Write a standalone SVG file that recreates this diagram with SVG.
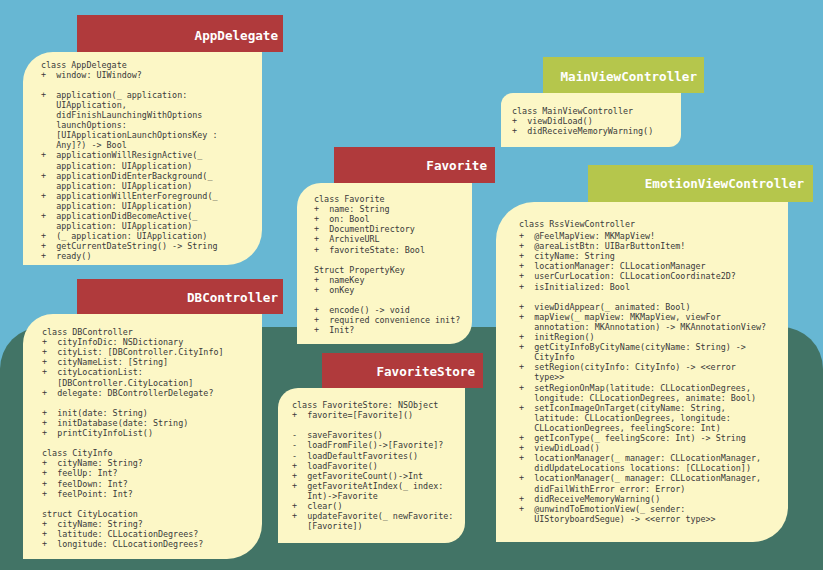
<svg xmlns="http://www.w3.org/2000/svg" width="823" height="570" viewBox="0 0 823 570" xml:space="preserve">
<style>
.body{font-family:"DejaVu Sans Mono","Liberation Mono",monospace;font-size:8.4px;fill:#3a3a3a;white-space:pre}
.hd{font-family:"DejaVu Sans Mono","Liberation Mono",monospace;font-size:12.6px;font-weight:bold;fill:#ffffff;text-anchor:end}
.card{fill:#fcf7c6}
.red{fill:#b03a3c}
.grn{fill:#b5c64c}
</style>
<rect x="0" y="0" width="823" height="570" fill="#67b7d3"/>
<rect x="0" y="327" width="823" height="300" rx="42" ry="42" fill="#427466"/>
<g id="connectors"></g>

<g id="AppDelegate">
<rect class="red" x="77" y="15" width="206" height="37"/>
<text class="hd" x="278" y="40">AppDelegate</text>
<path class="card" d="M23,82 A30,30 0 0 1 53,52 H262 V230 A35,35 0 0 1 227,265 H23 Z"/>
<text class="body" y="68"><tspan x="41">class AppDelegate</tspan><tspan x="41" dy="10.05">+  window: UIWindow?</tspan><tspan x="41" dy="20.1">+  application(_ application:</tspan><tspan x="41" dy="10.05">   UIApplication,</tspan><tspan x="41" dy="10.05">   didFinishLaunchingWithOptions</tspan><tspan x="41" dy="10.05">   launchOptions:</tspan><tspan x="41" dy="10.05">   [UIApplicationLaunchOptionsKey :</tspan><tspan x="41" dy="10.05">   Any]?) -&gt; Bool</tspan><tspan x="41" dy="10.05">+  applicationWillResignActive(_</tspan><tspan x="41" dy="10.05">   application: UIApplication)</tspan><tspan x="41" dy="10.05">+  applicationDidEnterBackground(_</tspan><tspan x="41" dy="10.05">   application: UIApplication)</tspan><tspan x="41" dy="10.05">+  applicationWillEnterForeground(_</tspan><tspan x="41" dy="10.05">   application: UIApplication)</tspan><tspan x="41" dy="10.05">+  applicationDidBecomeActive(_</tspan><tspan x="41" dy="10.05">   application: UIApplication)</tspan><tspan x="41" dy="10.05">+  (_ application: UIApplication)</tspan><tspan x="41" dy="10.05">+  getCurrentDateString() -&gt; String</tspan><tspan x="41" dy="10.05">+  ready()</tspan></text>
</g>

<g id="DBController">
<rect class="red" x="77" y="279" width="206" height="35"/>
<text class="hd" x="278" y="302">DBController</text>
<path class="card" d="M23,344 A30,30 0 0 1 53,314 H262 V524 A35,35 0 0 1 227,559 H23 Z"/>
<text class="body" y="335"><tspan x="42">class DBController</tspan><tspan x="42" dy="10.1">+  cityInfoDic: NSDictionary</tspan><tspan x="42" dy="10.1">+  cityList: [DBController.CityInfo]</tspan><tspan x="42" dy="10.1">+  cityNameList: [String]</tspan><tspan x="42" dy="10.1">+  cityLocationList:</tspan><tspan x="42" dy="10.1">   [DBController.CityLocation]</tspan><tspan x="42" dy="10.1">+  delegate: DBControllerDelegate?</tspan><tspan x="42" dy="20.2">+  init(date: String)</tspan><tspan x="42" dy="10.1">+  initDatabase(date: String)</tspan><tspan x="42" dy="10.1">+  printCityInfoList()</tspan><tspan x="42" dy="20.2">class CityInfo</tspan><tspan x="42" dy="10.1">+  cityName: String?</tspan><tspan x="42" dy="10.1">+  feelUp: Int?</tspan><tspan x="42" dy="10.1">+  feelDown: Int?</tspan><tspan x="42" dy="10.1">+  feelPoint: Int?</tspan><tspan x="42" dy="20.2">struct CityLocation</tspan><tspan x="42" dy="10.1">+  cityName: String?</tspan><tspan x="42" dy="10.1">+  latitude: CLLocationDegrees?</tspan><tspan x="42" dy="10.1">+  longitude: CLLocationDegrees?</tspan></text>
</g>

<g id="Favorite">
<rect class="red" x="334" y="147" width="161" height="36"/>
<text class="hd" x="487" y="170">Favorite</text>
<path class="card" d="M297,207 A24,24 0 0 1 321,183 H472 V322 A22,22 0 0 1 450,344 H297 Z"/>
<text class="body" y="202"><tspan x="314">class Favorite</tspan><tspan x="314" dy="10.1">+  name: String</tspan><tspan x="314" dy="10.1">+  on: Bool</tspan><tspan x="314" dy="10.1">+  DocumentDirectory</tspan><tspan x="314" dy="10.1">+  ArchiveURL</tspan><tspan x="314" dy="10.1">+  favoriteState: Bool</tspan><tspan x="314" dy="20.2">Struct PropertyKey</tspan><tspan x="314" dy="10.1">+  nameKey</tspan><tspan x="314" dy="10.1">+  onKey</tspan><tspan x="314" dy="20.2">+  encode() -&gt; void</tspan><tspan x="314" dy="10.1">+  required convenience init?</tspan><tspan x="314" dy="10.1">+  Init?</tspan></text>
</g>

<g id="FavoriteStore">
<rect class="red" x="322" y="353" width="161" height="35"/>
<text class="hd" x="475" y="376">FavoriteStore</text>
<path class="card" d="M278,408 A20,20 0 0 1 298,388 H465 V523 A20,20 0 0 1 445,543 H278 Z"/>
<text class="body" y="408"><tspan x="292">class FavoriteStore: NSObject</tspan><tspan x="292" dy="10.1">+  favorite=[Favorite]()</tspan><tspan x="292" dy="20.2">-  saveFavorites()</tspan><tspan x="292" dy="10.1">-  loadFromFile()-&gt;[Favorite]?</tspan><tspan x="292" dy="10.1">-  loadDefaultFavorites()</tspan><tspan x="292" dy="10.1">+  loadFavorite()</tspan><tspan x="292" dy="10.1">+  getFavoriteCount()-&gt;Int</tspan><tspan x="292" dy="10.1">+  getFavoriteAtIndex(_ index:</tspan><tspan x="292" dy="10.1">   Int)-&gt;Favorite</tspan><tspan x="292" dy="10.1">+  clear()</tspan><tspan x="292" dy="10.1">+  updateFavorite(_ newFavorite:</tspan><tspan x="292" dy="10.1">   [Favorite])</tspan></text>
</g>

<g id="MainViewController">
<rect class="grn" x="543" y="57" width="161" height="36"/>
<text class="hd" x="697" y="81">MainViewController</text>
<path class="card" d="M501,105 A12,12 0 0 1 513,93 H681 V135 A12,12 0 0 1 669,147 H501 Z"/>
<text class="body" y="114"><tspan x="512">class MainViewController</tspan><tspan x="512" dy="10">+  viewDidLoad()</tspan><tspan x="512" dy="10">+  didReceiveMemoryWarning()</tspan></text>
</g>

<g id="EmotionViewController">
<rect class="grn" x="588" y="165" width="225" height="37"/>
<text class="hd" x="804" y="188">EmotionViewController</text>
<path class="card" d="M496,240 A38,38 0 0 1 534,202 H788 V507 A35,35 0 0 1 753,542 H496 Z"/>
<text class="body" y="227"><tspan x="519">class RssViewController</tspan><tspan x="519" dy="12">+  @FeelMapView: MKMapView!</tspan><tspan x="519" dy="10.1">+  @areaListBtn: UIBarButtonItem!</tspan><tspan x="519" dy="10.1">+  cityName: String</tspan><tspan x="519" dy="10.1">+  locationManager: CLLocationManager</tspan><tspan x="519" dy="10.1">+  userCurLocation: CLLocationCoordinate2D?</tspan><tspan x="519" dy="10.1">+  isInitialized: Bool</tspan><tspan x="519" dy="20.2">+  viewDidAppear(_ animated: Bool)</tspan><tspan x="519" dy="10.1">+  mapView(_ mapView: MKMapView, viewFor</tspan><tspan x="519" dy="10.1">   annotation: MKAnnotation) -&gt; MKAnnotationView?</tspan><tspan x="519" dy="10.1">+  initRegion()</tspan><tspan x="519" dy="10.1">+  getCityInfoByCityName(cityName: String) -&gt;</tspan><tspan x="519" dy="10.1">   CityInfo</tspan><tspan x="519" dy="10.1">+  setRegion(cityInfo: CityInfo) -&gt; &lt;&lt;error</tspan><tspan x="519" dy="10.1">   type&gt;&gt;</tspan><tspan x="519" dy="10.1">+  setRegionOnMap(latitude: CLLocationDegrees,</tspan><tspan x="519" dy="10.1">   longitude: CLLocationDegrees, animate: Bool)</tspan><tspan x="519" dy="10.1">+  setIconImageOnTarget(cityName: String,</tspan><tspan x="519" dy="10.1">   latitude: CLLocationDegrees, longitude:</tspan><tspan x="519" dy="10.1">   CLLocationDegrees, feelingScore: Int)</tspan><tspan x="519" dy="10.1">+  getIconType(_ feelingScore: Int) -&gt; String</tspan><tspan x="519" dy="10.1">+  viewDidLoad()</tspan><tspan x="519" dy="10.1">+  locationManager(_ manager: CLLocationManager,</tspan><tspan x="519" dy="10.1">   didUpdateLocations locations: [CLLocation])</tspan><tspan x="519" dy="10.1">+  locationManager(_ manager: CLLocationManager,</tspan><tspan x="519" dy="10.1">   didFailWithError error: Error)</tspan><tspan x="519" dy="10.1">+  didReceiveMemoryWarning()</tspan><tspan x="519" dy="10.1">+  @unwindToEmotionView(_ sender:</tspan><tspan x="519" dy="10.1">   UIStoryboardSegue) -&gt; &lt;&lt;error type&gt;&gt;</tspan></text>
</g>
</svg>
